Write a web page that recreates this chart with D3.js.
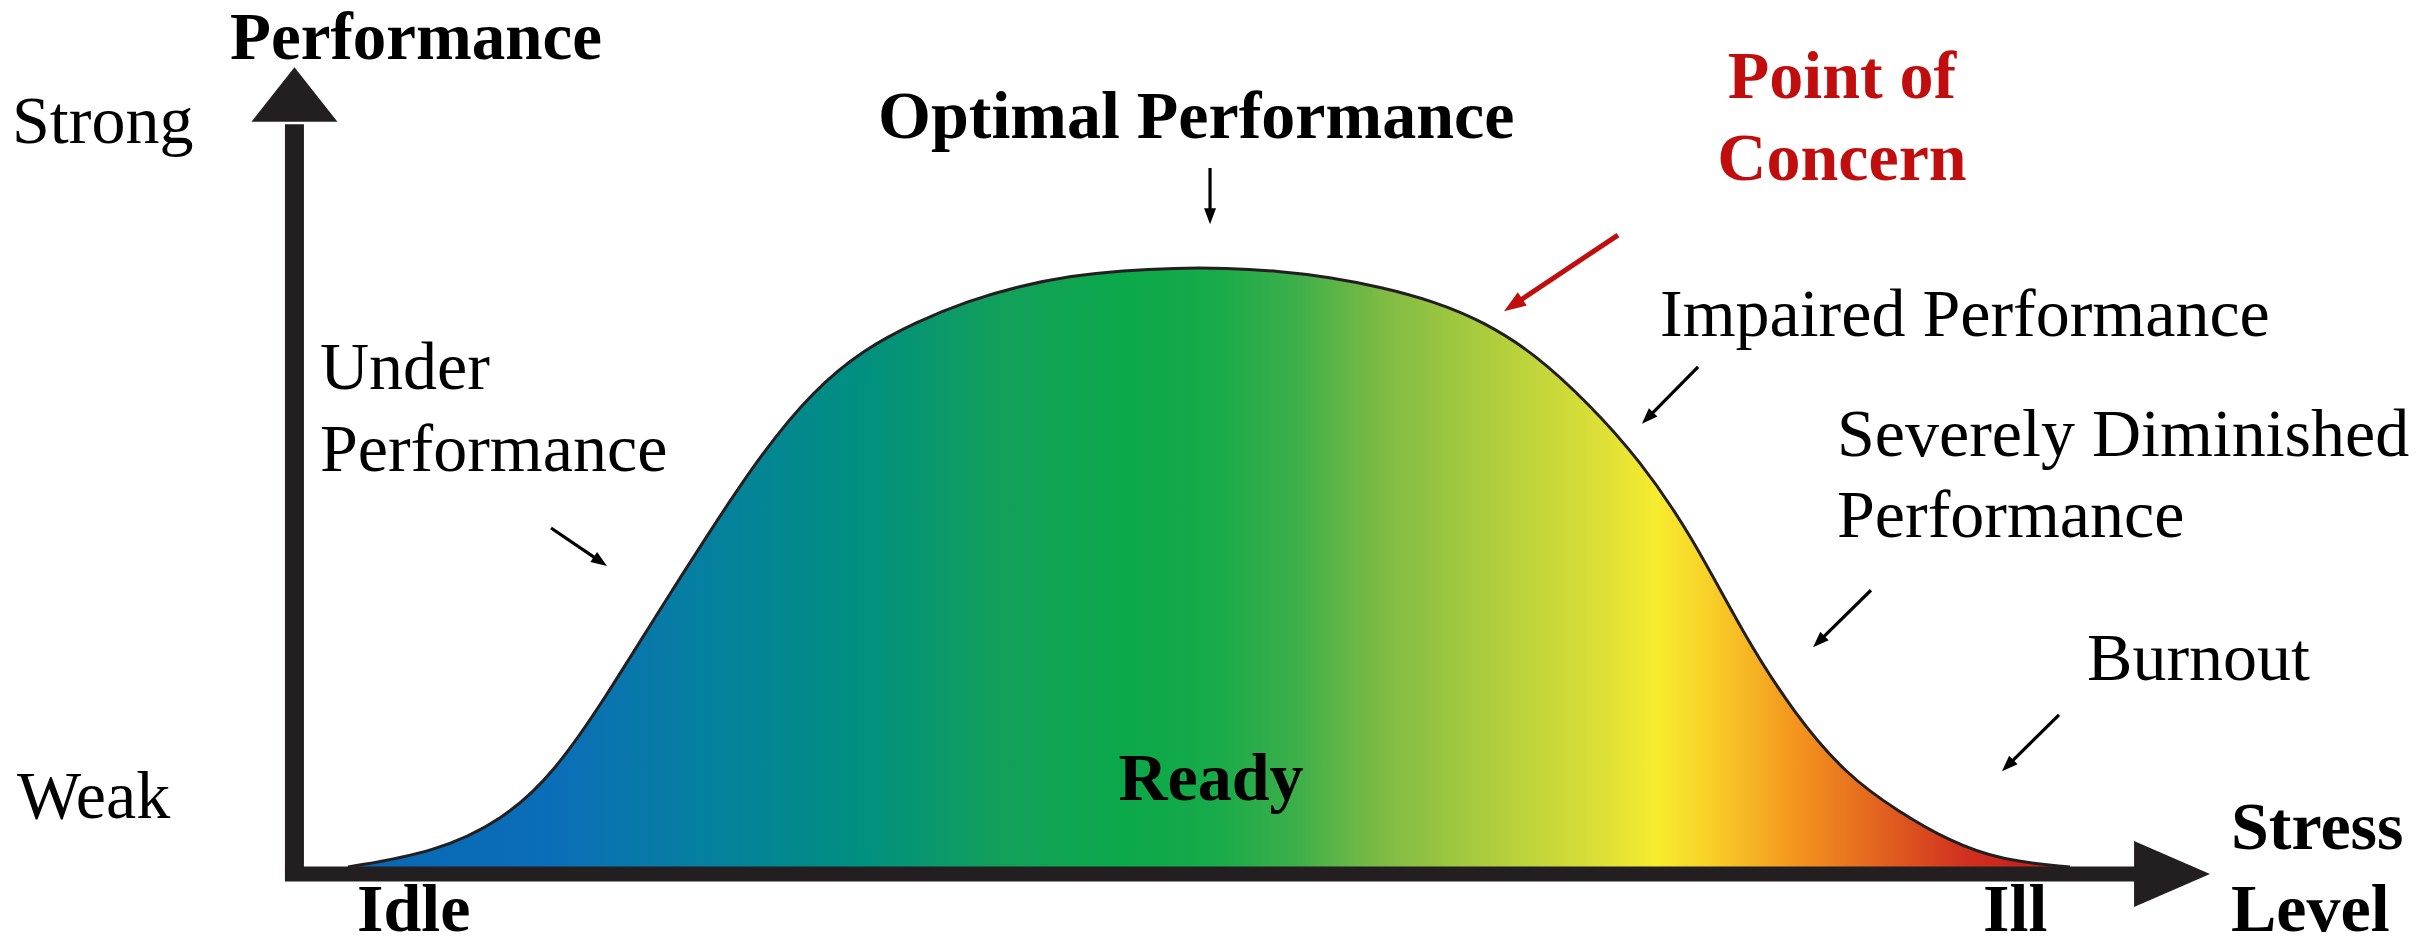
<!DOCTYPE html>
<html>
<head>
<meta charset="utf-8">
<script src="https://cdn.jsdelivr.net/npm/d3@7/dist/d3.min.js"></script>
<style>
  body { margin: 0; background: #ffffff; }
  svg { display: block; }
  text { font-family: "Liberation Serif", "Times New Roman", serif; }
</style>
</head>
<body>
<div id="stress-curve"></div>
<script>
// DATA (stress level 0-100, performance 0-100)
const stressLevel = [0, 5, 9, 12, 15, 18, 21, 24, 27, 30, 33, 36, 39, 42, 45, 48, 51,
  54, 57, 60, 63, 66, 69, 72, 75, 78, 81, 84, 87, 90, 93, 96, 100]
const performance = [0, 2.4, 7.8, 15.8, 28.5, 42.5, 56, 69, 79.5, 86.5, 91, 94.5, 97,
  98.7, 99.6, 100, 100, 99.5, 98.5, 96.8, 94.5, 91, 85.5, 77.5, 68, 55.5, 39, 25.5,
  15.4, 9.3, 4.3, 1.1, 0]

const axisTitles = ["Performance", "Stress", "Level"]
const strengthLabels = ["Strong", "Weak"]
const levelLabels = ["Idle", "Ready", "Ill"]
const zoneLabels = [
  ["Under", "Performance"],
  ["Optimal Performance"],
  ["Point of", "Concern"],
  ["Impaired Performance"],
  ["Severely Diminished", "Performance"],
  ["Burnout"],
]

function drawStressCurve() {
  // 1. ACCESS DATA
  const dataset = stressLevel.map((s, i) => ({ stress: s, perf: performance[i] }))
  const xAccessor = d => d.stress
  const yAccessor = d => d.perf

  // 2. DIMENSIONS
  const dimensions = {
    width: 2433,
    height: 945,
    margin: { top: 268, right: 363, bottom: 78, left: 348 },
  }
  dimensions.boundedWidth = dimensions.width - dimensions.margin.left
    - dimensions.margin.right
  dimensions.boundedHeight = dimensions.height - dimensions.margin.top
    - dimensions.margin.bottom

  // 3. DRAW CANVAS
  const wrapper = d3.select("#stress-curve")
    .append("svg")
    .attr("width", dimensions.width)
    .attr("height", dimensions.height)

  const bounds = wrapper.append("g")
    .attr("transform", `translate(${dimensions.margin.left},${dimensions.margin.top})`)

  // 4. CREATE SCALES
  const xScale = d3.scaleLinear()
    .domain([0, 100])
    .range([0, dimensions.boundedWidth])
  const yScale = d3.scaleLinear()
    .domain([0, 100])
    .range([dimensions.boundedHeight, 0])

  // gradient along stress axis
  const palette = [
    [0, "#0867b3"], [0.12, "#0b6eb8"], [0.21, "#05809e"], [0.30, "#00907f"],
    [0.38, "#13a05a"], [0.45, "#0ba84a"], [0.50, "#16aa4a"], [0.55, "#3caf4a"],
    [0.60, "#7dbb44"], [0.67, "#b4cf3d"], [0.73, "#dfe036"], [0.76, "#f7ec2f"],
    [0.79, "#f8d128"], [0.84, "#f4961e"], [0.89, "#e2621f"], [0.94, "#d0301f"],
    [1, "#c4161c"],
  ]
  const defs = wrapper.append("defs")
  defs.append("linearGradient")
      .attr("id", "stress-gradient")
      .attr("gradientUnits", "userSpaceOnUse")
      .attr("x1", xScale(0)).attr("x2", xScale(100))
      .attr("y1", 0).attr("y2", 0)
    .selectAll("stop")
    .data(palette)
    .join("stop")
      .attr("offset", d => d[0])
      .attr("stop-color", d => d[1])

  // 5. DRAW DATA
  const areaGenerator = d3.area()
    .x(d => xScale(xAccessor(d)))
    .y0(yScale(0))
    .y1(d => yScale(yAccessor(d)))
    .curve(d3.curveBasis)

  bounds.append("path")
    .datum(dataset)
    .attr("d", areaGenerator)
    .attr("fill", "url(#stress-gradient)")

  const lineGenerator = d3.line()
    .x(d => xScale(xAccessor(d)))
    .y(d => yScale(yAccessor(d)))
    .curve(d3.curveBasis)

  bounds.append("path")
    .datum(dataset)
    .attr("d", lineGenerator)
    .attr("fill", "none")
    .attr("stroke", "#231f20")
    .attr("stroke-width", 3)

  // 6. DRAW PERIPHERALS
  const axisColor = "#231f20"
  const yAxisX = xScale(-3.11)
  const xAxisY = yScale(-1.17)

  // y axis: shaft + head
  bounds.append("line")
    .attr("x1", yAxisX).attr("x2", yAxisX)
    .attr("y1", yScale(-2.34)).attr("y2", yScale(124))
    .attr("stroke", axisColor)
    .attr("stroke-width", 19)
  const yTip = yScale(133.5), yBase = yScale(124.4)
  bounds.append("path")
    .attr("d", `M${yAxisX},${yTip}L${yAxisX - 43},${yBase}L${yAxisX + 43},${yBase}Z`)
    .attr("fill", axisColor)

  // x axis: shaft + head
  bounds.append("line")
    .attr("x1", xScale(-3.66)).attr("x2", xScale(104))
    .attr("y1", xAxisY).attr("y2", xAxisY)
    .attr("stroke", axisColor)
    .attr("stroke-width", 15)
  const xTip = xScale(108.13), xBase = xScale(103.72)
  bounds.append("path")
    .attr("d", `M${xTip},${xAxisY}L${xBase},${xAxisY - 33}L${xBase},${xAxisY + 33}Z`)
    .attr("fill", axisColor)

  // axis titles and end labels
  const label = (txt, x, y, opts = {}) => bounds.append("text")
    .attr("x", xScale(x))
    .attr("y", yScale(y))
    .attr("font-size", opts.size || 68)
    .attr("font-weight", opts.bold ? "bold" : "normal")
    .attr("text-anchor", opts.anchor || "start")
    .attr("fill", opts.color || "#000")
    .text(txt)

  label(axisTitles[0], -6.85, 134.9, { bold: true, size: 67 })
  label(axisTitles[1], 109.35, 3.0, { bold: true })
  label(axisTitles[2], 109.35, -10.7, { bold: true })

  label(strengthLabels[0], -19.51, 120.9)
  label(strengthLabels[1], -19.22, 8.2)

  label(levelLabels[0], 0.52, -10.7, { bold: true })
  label(levelLabels[1], 50.12, 11.2, { bold: true, anchor: "middle" })
  label(levelLabels[2], 94.95, -10.7, { bold: true })

  // zone annotations: text lines, then arrow from -> to (data units)
  const concernRed = "#c00d0d"
  const zoneLayout = [
    { x: -1.63, y: [79.8, 66.1], arrow: [[11.79, 56.6], [15.04, 50.25]] },
    { x: 30.78, y: [121.7], bold: true, arrow: [[50.06, 116.7], [50.06, 107.3]] },
    { x: 86.76, y: [128.4, 114.7], bold: true, anchor: "middle", color: concernRed,
      arrow: [[73.75, 105.5], [67.13, 92.8]], thick: true },
    { x: 76.19, y: [88.6], arrow: [[78.4, 83.5], [75.14, 74.0]] },
    { x: 86.47, y: [68.6, 55.1], arrow: [[88.44, 46.2], [85.08, 36.7]] },
    { x: 100.99, y: [31.2], arrow: [[99.36, 25.4], [96.05, 16.0]] },
  ]

  const drawArrow = (from, to, color, width, headLen, headHalf) => {
    const x1 = xScale(from[0]), y1 = yScale(from[1])
    const x2 = xScale(to[0]), y2 = yScale(to[1])
    const len = Math.hypot(x2 - x1, y2 - y1)
    const ux = (x2 - x1) / len, uy = (y2 - y1) / len
    const bx = x2 - ux * headLen, by = y2 - uy * headLen
    bounds.append("line")
      .attr("x1", x1).attr("y1", y1)
      .attr("x2", bx + ux * 2).attr("y2", by + uy * 2)
      .attr("stroke", color)
      .attr("stroke-width", width)
    bounds.append("path")
      .attr("d", `M${x2},${y2}L${bx - uy * headHalf},${by + ux * headHalf}`
        + `L${bx + uy * headHalf},${by - ux * headHalf}Z`)
      .attr("fill", color)
  }

  zoneLabels.forEach((lines, i) => {
    const lay = zoneLayout[i]
    lines.forEach((txt, j) => label(txt, lay.x, lay.y[j], lay))
    if (lay.thick) {
      drawArrow(lay.arrow[0], lay.arrow[1], concernRed, 5, 22, 8)
    } else {
      drawArrow(lay.arrow[0], lay.arrow[1], "#000", 3.2, 16, 6)
    }
  })
}

drawStressCurve()
</script>
</body>
</html>
